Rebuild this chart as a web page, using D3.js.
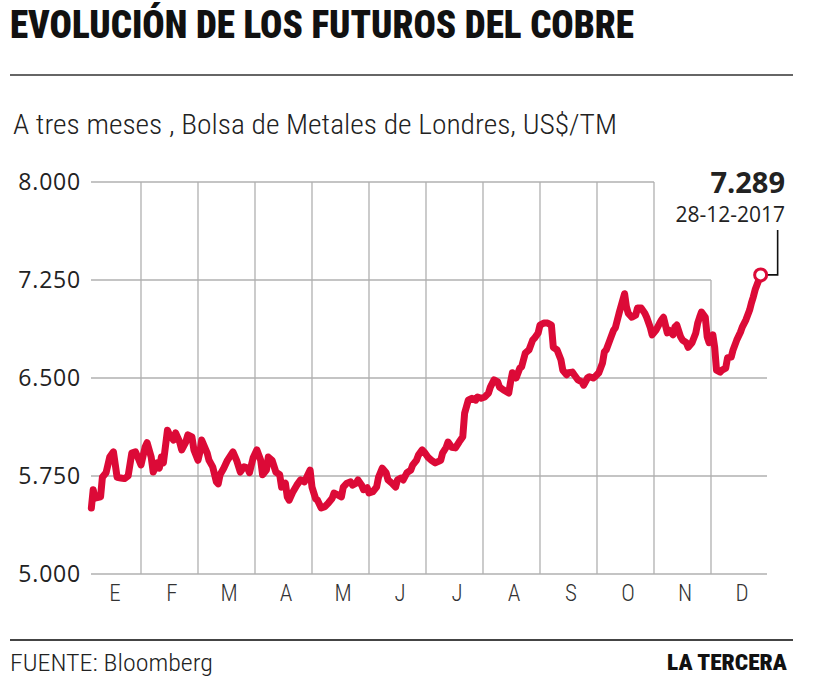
<!DOCTYPE html>
<html>
<head>
<meta charset="utf-8">
<script src="https://cdn.jsdelivr.net/npm/d3@7"></script>
<style>
  html, body { margin: 0; padding: 0; background: #fff; }
  svg { display: block; }
</style>
</head>
<body>
<svg id="chart" width="820" height="681"></svg>
<script>
// ---------------- DATA ----------------
const title = "EVOLUCIÓN DE LOS FUTUROS DEL COBRE";
const subtitle = "A tres meses , Bolsa de Metales de Londres, US$/TM";
const source = "FUENTE: Bloomberg";
const brand = "LA TERCERA";
const year = 2017;
const monthLabels = ["E","F","M","A","M","J","J","A","S","O","N","D"];
const yTicks = [5000, 5750, 6500, 7250, 8000];
const lastLabelValue = "7.289";
const lastLabelDate = "28-12-2017";

const dates = [
 "01-05","01-06","01-07","01-10","01-11","01-13","01-15","01-17","01-19","01-21","01-23","01-25","01-27","01-29","01-31",
 "02-01","02-03","02-04","02-06","02-07","02-09","02-10","02-11","02-12","02-14","02-15","02-17","02-18","02-20","02-21","02-23","02-24","02-26","02-27",
 "03-01","03-02","03-03","03-06","03-07","03-09","03-11","03-12","03-13","03-15","03-17","03-20","03-22","03-24","03-26","03-28","03-29","03-31",
 "04-02","04-04","04-05","04-07","04-08","04-10","04-12","04-14","04-15","04-17","04-18","04-19","04-21","04-23","04-25","04-27","04-28","04-30",
 "05-01","05-03","05-04","05-06","05-08","05-10","05-12","05-13","05-15","05-17","05-18","05-20","05-22","05-23","05-25","05-26","05-28","05-29","05-31",
 "06-01","06-03","06-05","06-06","06-08","06-10","06-11","06-13","06-15","06-16","06-18","06-19","06-21","06-23","06-24","06-26","06-27","06-29","06-30",
 "07-02","07-04","07-06","07-09","07-10","07-12","07-13","07-15","07-17","07-19","07-21","07-22","07-24","07-26","07-28","07-29","07-31",
 "08-02","08-04","08-05","08-07","08-09","08-10","08-12","08-15","08-16","08-17","08-19","08-21","08-22","08-24","08-26","08-28","08-29","08-31",
 "09-01","09-03","09-05","09-07","09-08","09-10","09-12","09-13","09-15","09-16","09-18","09-19","09-21","09-23","09-24","09-26","09-27","09-29","09-30",
 "10-02","10-04","10-05","10-06","10-08","10-10","10-11","10-13","10-15","10-16","10-17","10-18","10-20","10-22","10-23","10-25","10-27","10-28","10-30","10-31",
 "11-02","11-04","11-05","11-06","11-08","11-09","11-11","11-12","11-13","11-15","11-16","11-18","11-19","11-21","11-23","11-24","11-25","11-26","11-28","11-29","11-30",
 "12-01","12-02","12-03","12-04","12-06","12-07","12-09","12-10","12-12","12-13","12-15","12-17","12-18","12-20","12-22","12-23","12-24","12-25","12-27","12-28"
];
const values = [
 5505,5645,5580,5590,5740,5775,5895,5935,5740,5735,5730,5750,5925,5935,5870,
 5835,5970,6005,5895,5780,5850,5810,5895,5850,6100,6065,6025,6080,6010,5950,6010,6065,6050,5950,
 5870,5930,6025,5925,5870,5820,5705,5690,5760,5810,5870,5935,5870,5780,5820,5810,5775,5890,
 5950,5870,5760,5795,5895,5870,5780,5760,5665,5695,5590,5565,5630,5680,5720,5705,5735,5795,
 5665,5575,5565,5505,5515,5545,5580,5620,5605,5590,5665,5695,5705,5680,5695,5720,5680,5645,5660,
 5620,5630,5665,5740,5810,5775,5720,5695,5665,5720,5735,5720,5775,5795,5835,5870,5910,5950,5935,
 5895,5870,5850,5870,5925,5970,6010,5970,5965,6010,6050,6230,6330,6345,6330,6355,6345,
 6355,6385,6430,6485,6470,6430,6410,6385,6470,6540,6500,6575,6585,6690,6715,6790,6805,6845,
 6905,6920,6920,6905,6735,6715,6640,6560,6525,6540,6545,6525,6485,6470,6445,6500,6510,6500,6510,
 6540,6615,6700,6715,6790,6865,6885,6995,7095,7145,7045,6995,6965,6980,7035,7035,6995,6965,6885,6830,
 6865,6920,6945,6965,6845,6865,6830,6890,6905,6815,6790,6770,6735,6770,6845,6920,6965,7005,6965,6815,6770,
 6805,6830,6735,6560,6545,6560,6575,6655,6660,6715,6790,6850,6890,6945,7020,7075,7120,7175,7250,7289
];

// ---------------- LAYOUT ----------------
const svg = d3.select("#chart");
const plotLeft = 91, plotRight = 767;
const red = "#dc0a37";
const gridColor = "#b0b0b0";
const condensed = "'Roboto Condensed', 'Liberation Sans Narrow', 'Roboto', sans-serif";

const parse = d3.timeParse("%Y-%m-%d");
const data = dates.map((d, i) => ({ date: parse(year + "-" + d), value: values[i] }));

function monthPos(d) {
  const s = d3.timeMonth.floor(d), e = d3.timeMonth.offset(s, 1);
  return d.getMonth() + (d - s) / (e - s);
}

const x = d3.scaleLinear().domain([0, 12]).range([84, 768]);
const y = d3.scaleLinear().domain([5000, 8000]).range([574, 182]);

// ---------------- TITLES ----------------
svg.append("text")
  .attr("x", 10).attr("y", 38)
  .attr("font-family", condensed)
  .attr("font-weight", 900)
  .attr("font-size", 38)
  .attr("fill", "#111")
  .attr("textLength", 624).attr("lengthAdjust", "spacingAndGlyphs")
  .text(title);

svg.append("line").attr("x1", 10).attr("x2", 793).attr("y1", 75).attr("y2", 75)
  .attr("stroke", "#666").attr("stroke-width", 2);

svg.append("text")
  .attr("x", 13).attr("y", 134)
  .attr("font-family", condensed)
  .attr("font-weight", 300)
  .attr("font-size", 28)
  .attr("fill", "#222")
  .attr("textLength", 604).attr("lengthAdjust", "spacingAndGlyphs")
  .text(subtitle);

// ---------------- GRID ----------------
const g = svg.append("g");

g.selectAll("line.h").data(yTicks).join("line")
  .attr("class", "h")
  .attr("x1", plotLeft)
  .attr("x2", d => d === 8000 ? x(10) : d === 7250 ? x(11) : plotRight)
  .attr("y1", d => y(d)).attr("y2", d => y(d))
  .attr("stroke", gridColor).attr("stroke-width", 1.3);

const seps = d3.range(1, 12);
g.selectAll("line.v").data(seps).join("line")
  .attr("class", "v")
  .attr("x1", d => x(d)).attr("x2", d => x(d))
  .attr("y1", d => d === 11 ? y(7250) : y(8000))
  .attr("y2", y(5000))
  .attr("stroke", gridColor).attr("stroke-width", 1.3);

const fmt = v => d3.format(",")(v).replace(/,/g, ".");
const yAxis = d3.axisLeft(y).tickValues(yTicks).tickSize(0).tickPadding(0).tickFormat(fmt);
const ya = svg.append("g").attr("transform", `translate(81,0)`).call(yAxis);
ya.select(".domain").remove();
ya.selectAll("text")
  .attr("font-family", "'Open Sans', sans-serif")
  .attr("font-size", 23)
  .attr("letter-spacing", 0.8)
  .attr("fill", "#222");

const xAxis = d3.axisBottom(x).tickValues(d3.range(12).map(i => i + 0.5))
  .tickSize(0).tickPadding(0).tickFormat((d, i) => monthLabels[i]);
const xa = svg.append("g").attr("transform", `translate(2,585)`).call(xAxis);
xa.select(".domain").remove();
xa.selectAll("text")
  .attr("font-family", condensed)
  .attr("font-weight", 300)
  .attr("font-size", 23)
  .attr("fill", "#333");

// ---------------- LINE ----------------
const line = d3.line()
  .x(d => x(monthPos(d.date)))
  .y(d => y(d.value));

svg.append("path").datum(data)
  .attr("d", line)
  .attr("fill", "none")
  .attr("stroke", red)
  .attr("stroke-width", 7)
  .attr("stroke-linejoin", "round")
  .attr("stroke-linecap", "round");

// ---------------- ANNOTATION ----------------
const last = data[data.length - 1];
const lx = x(monthPos(last.date)), ly = y(last.value);
svg.append("path")
  .attr("d", `M${lx + 5},${ly} H${lx + 17} V${ly - 45}`)
  .attr("fill", "none").attr("stroke", "#111").attr("stroke-width", 1.6);
svg.append("circle").attr("cx", lx).attr("cy", ly).attr("r", 6)
  .attr("fill", "#fff").attr("stroke", red).attr("stroke-width", 3);

svg.append("text")
  .attr("x", 785).attr("y", 193).attr("text-anchor", "end")
  .attr("font-family", "'Open Sans', sans-serif").attr("font-weight", 700)
  .attr("font-size", 29).attr("fill", "#222")
  .text(lastLabelValue);
svg.append("text")
  .attr("x", 785).attr("y", 222).attr("text-anchor", "end")
  .attr("font-family", "'Open Sans', sans-serif")
  .attr("font-size", 21).attr("fill", "#222")
  .text(lastLabelDate);

// ---------------- FOOTER ----------------
svg.append("line").attr("x1", 10).attr("x2", 793).attr("y1", 640).attr("y2", 640)
  .attr("stroke", "#444").attr("stroke-width", 2);

svg.append("text")
  .attr("x", 10).attr("y", 671)
  .attr("font-family", condensed)
  .attr("font-weight", 300)
  .attr("font-size", 24).attr("fill", "#222")
  .attr("textLength", 203).attr("lengthAdjust", "spacingAndGlyphs")
  .text(source);

svg.append("text")
  .attr("x", 787).attr("y", 670).attr("text-anchor", "end")
  .attr("font-family", condensed)
  .attr("font-weight", 900)
  .attr("font-size", 22).attr("fill", "#111")
  .attr("textLength", 120).attr("lengthAdjust", "spacingAndGlyphs")
  .text(brand);
</script>
</body>
</html>
